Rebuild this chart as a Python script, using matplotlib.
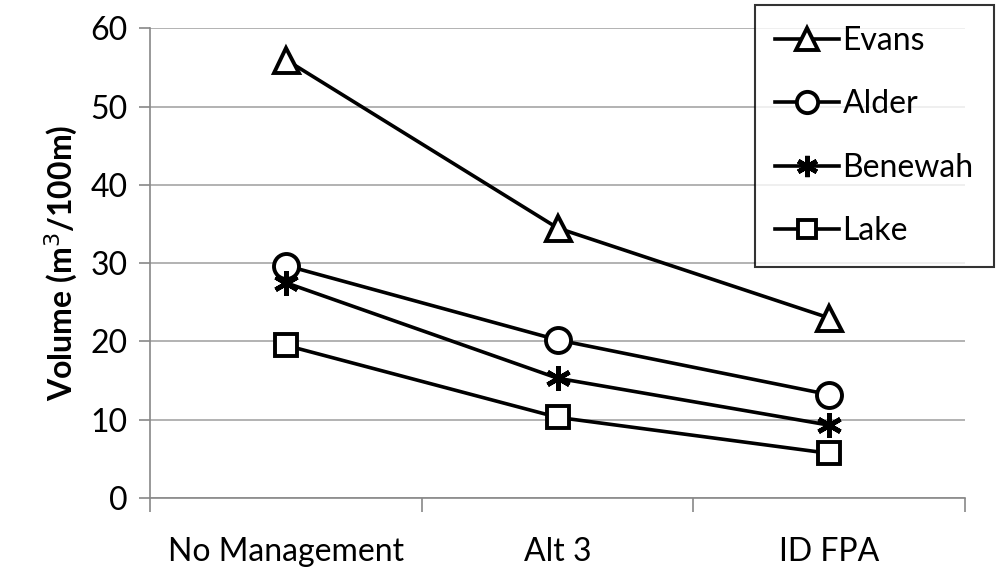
import matplotlib
matplotlib.use("Agg")
import matplotlib.pyplot as plt
from matplotlib import font_manager

# ── data ────────────────────────────────────────────────────────────────
categories = ["No Management", "Alt 3", "ID FPA"]
evans = [56.0, 34.5, 23.0]
alder = [29.7, 20.2, 13.2]
benewah = [27.5, 15.3, 9.3]
lake = [19.5, 10.3, 5.7]

SERIES = [
    ("Evans", evans, "^"),
    ("Alder", alder, "o"),
    ("Benewah", benewah, (6, 2, 0)),
    ("Lake", lake, "s"),
]

names = {f.name for f in font_manager.fontManager.ttflist}
FONT = "Liberation Sans Narrow" if "Liberation Sans Narrow" in names else "Lato"
plt.rcParams["font.family"] = [FONT, "DejaVu Sans"]

fig = plt.figure(figsize=(10.01, 5.81), dpi=100)
ax = fig.add_axes([0.150, 0.143, 0.814, 0.808])

x = range(len(categories))
for name, vals, mk in SERIES:
    filled = mk in ("^", "o", "s")
    ax.plot(x, vals, color="black", lw=2.6, marker=mk,
            ms=18 if mk != "s" else 16,
            mfc="white" if filled else "black", mec="black",
            mew=2.8 if filled else 3.4,
            label=name, zorder=3)

ax.set_xlim(-0.5, 2.5)
ax.set_ylim(0, 60)
ax.set_yticks(range(0, 61, 10))
ax.set_xticks([-0.5, 0.5, 1.5, 2.5], minor=False)
ax.set_xticklabels([])
ax.set_xticks(list(x), minor=True)
ax.set_xticklabels(categories, minor=True)
ax.tick_params(axis="x", which="minor", length=0, pad=28, labelsize=23)
ax.tick_params(axis="x", which="major", length=10, color="#888888", width=1.2)
ax.tick_params(axis="y", length=8, color="#888888", width=1.2, labelsize=23, pad=8)
ax.grid(axis="y", color="#a6a6a6", lw=1.2)
for s in ("top", "right"):
    ax.spines[s].set_visible(False)
for s in ("left", "bottom"):
    ax.spines[s].set_color("#888888")
    ax.spines[s].set_linewidth(1.2)

ax.set_ylabel("Volume (m$^3$/100m)", fontsize=23, fontweight="bold", labelpad=8)

leg = ax.legend(loc="upper right", bbox_to_anchor=(1.036, 1.05), fontsize=23,
                frameon=True, fancybox=False, edgecolor="black",
                handlelength=2.0, handletextpad=0.1, labelspacing=1.05,
                borderpad=0.65, borderaxespad=0.0, markerscale=0.85)
leg.get_frame().set_linewidth(1.5)

fig.savefig("out.png", dpi=100)
